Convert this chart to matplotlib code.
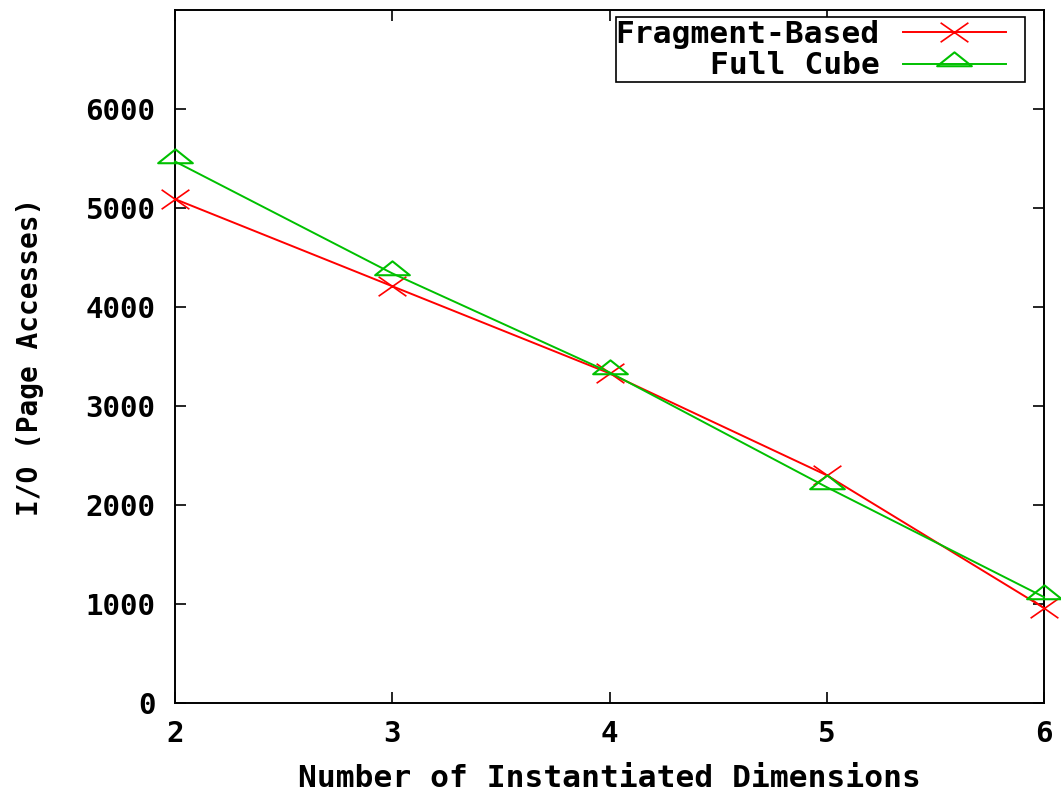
import matplotlib
matplotlib.use("Agg")
import matplotlib.pyplot as plt
from matplotlib.path import Path
from matplotlib.patches import Rectangle

dims = [2, 3, 4, 5, 6]
fragment_based = [5090, 4210, 3330, 2300, 960]
full_cube = [5470, 4340, 3340, 2180, 1070]

plt.rcParams['font.family'] = ['DejaVu Sans Mono']
plt.rcParams['font.weight'] = 'bold'

# wide, flat point symbols
cross = Path([(-1, -0.7), (1, 0.7), (-1, 0.7), (1, -0.7)],
             [Path.MOVETO, Path.LINETO, Path.MOVETO, Path.LINETO])
flat_tri = Path([(-1, -0.1), (1, -0.1), (0, 0.7), (-1, -0.1)],
                [Path.MOVETO, Path.LINETO, Path.LINETO, Path.CLOSEPOLY])

W, H = 1061, 798
fig = plt.figure(figsize=(W / 100, H / 100), dpi=100)
ax = fig.add_axes([175 / W, 1 - 703 / H, (1044 - 175) / W, (703 - 10) / H])

ax.plot(dims, fragment_based, color='#ff0000', lw=1.4, marker=cross, ms=20, mew=1.2,
        label='Fragment-Based', clip_on=False, zorder=3)
ax.plot(dims, full_cube, color='#00c000', lw=1.4, marker=flat_tri, ms=25, mew=1.5,
        mfc='none', label='Full Cube', clip_on=False, zorder=3)

ax.set_xlim(2, 6)
ax.set_ylim(0, 7000)
ax.set_xticks(dims)
ax.set_yticks(range(0, 7000, 1000))
ax.tick_params(direction='in', length=8, width=1.2, labelsize=21, top=True, right=True)
ax.tick_params(axis='y', pad=14)
ax.tick_params(axis='x', pad=12)
for lab in ax.get_xticklabels() + ax.get_yticklabels():
    lab.set_fontweight('bold')
for s in ax.spines.values():
    s.set_linewidth(1.4)

ax.set_xlabel('Number of Instantiated Dimensions', fontsize=22.5, fontweight='bold', labelpad=12)
ax.set_ylabel('I/O (Page Accesses)', fontsize=20, fontweight='bold', labelpad=30)

# key box drawn separately so the entries can sit inset on the right
ax.add_patch(Rectangle((616 / W, 1 - 82 / H), (1025 - 616) / W, (82 - 17) / H,
                       transform=fig.transFigure, fill=True, facecolor='white',
                       edgecolor='black', lw=1.2, zorder=4, clip_on=False))
leg = ax.legend(loc='upper right', bbox_to_anchor=(1006 / W, 1 - 20 / H),
                bbox_transform=fig.transFigure, markerfirst=False,
                fontsize=22.5, frameon=False, handlelength=3.3,
                borderpad=0.0, labelspacing=0.08, handletextpad=0.74,
                borderaxespad=0)
leg.set_zorder(5)
for t in leg.get_texts():
    t.set_ha('right')
    t.set_fontweight('bold')

fig.savefig('out.png', dpi=100)
